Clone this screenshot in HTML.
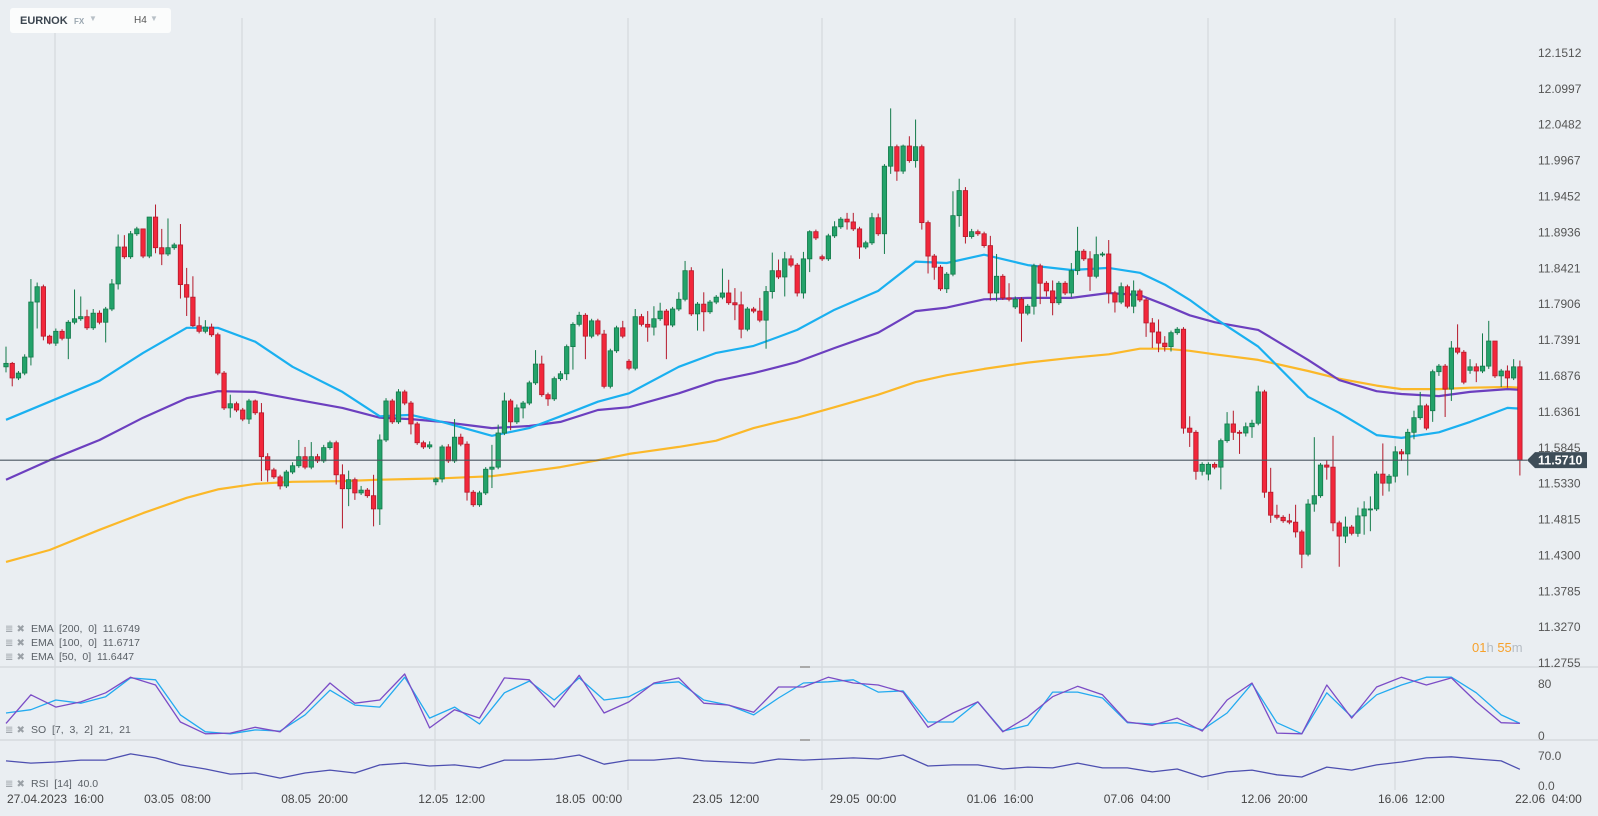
<!DOCTYPE html>
<html><head><meta charset="utf-8"><style>
html,body{margin:0;padding:0;background:#eaeef2;}
body{width:1598px;height:816px;overflow:hidden;position:relative;font-family:"Liberation Sans",sans-serif;}
#chart{position:absolute;left:0;top:0;}
.box{position:absolute;left:10px;top:8px;width:161px;height:25px;background:#fbfcfc;border-radius:3px;}
</style></head><body>
<svg id="chart" width="1598" height="816"></svg>
<div class="box">
<span style="position:absolute;left:10px;top:7px;font-size:11px;font-weight:bold;color:#3c4650">EURNOK</span>
<span style="position:absolute;left:64px;top:9px;font-size:8px;font-weight:bold;color:#9aa6b0">FX</span>
<span style="position:absolute;left:79px;top:6px;font-size:8px;color:#b8c0c7">▼</span>
<span style="position:absolute;left:124px;top:7px;font-size:10px;color:#555">H4</span>
<span style="position:absolute;left:140px;top:6px;font-size:8px;color:#b8c0c7">▼</span>
</div>
<script>
const closes=[11.710,11.689,11.696,11.719,11.798,11.820,11.749,11.739,11.756,11.746,
11.769,11.774,11.777,11.761,11.782,11.769,11.788,11.824,11.877,11.863,
11.896,11.903,11.864,11.920,11.876,11.867,11.876,11.880,11.823,11.805,
11.764,11.756,11.762,11.751,11.696,11.646,11.652,11.643,11.630,11.656,
11.639,11.576,11.557,11.547,11.534,11.554,11.563,11.576,11.561,11.576,
11.570,11.589,11.596,11.550,11.530,11.543,11.524,11.528,11.520,11.501,
11.600,11.656,11.626,11.669,11.653,11.623,11.596,11.590,11.593,11.544,
11.590,11.570,11.604,11.594,11.525,11.507,11.524,11.558,11.561,11.610,
11.656,11.626,11.646,11.653,11.682,11.709,11.665,11.659,11.688,11.695,
11.734,11.766,11.779,11.749,11.771,11.752,11.677,11.728,11.761,11.749,
11.703,11.777,11.766,11.762,11.774,11.785,11.765,11.788,11.802,11.843,
11.781,11.795,11.784,11.798,11.805,11.811,11.797,11.794,11.759,11.788,
11.785,11.772,11.813,11.843,11.834,11.860,11.851,11.811,11.860,11.899,
11.890,11.860,11.893,11.906,11.917,11.913,11.903,11.877,11.883,11.919,
11.896,11.993,12.021,11.986,12.022,12.001,12.021,11.912,11.864,11.848,
11.817,11.838,11.922,11.958,11.892,11.899,11.896,11.879,11.811,11.835,
11.804,11.802,11.802,11.782,11.792,11.850,11.825,11.814,11.797,11.825,
11.811,11.843,11.871,11.860,11.835,11.866,11.867,11.811,11.798,11.820,
11.792,11.814,11.801,11.768,11.755,11.739,11.734,11.754,11.759,11.617,
11.611,11.555,11.565,11.565,11.561,11.599,11.623,11.611,11.610,11.619,
11.624,11.669,11.525,11.492,11.489,11.484,11.482,11.468,11.436,11.508,
11.520,11.564,11.561,11.481,11.462,11.475,11.466,11.491,11.501,11.501,
11.551,11.538,11.548,11.583,11.580,11.611,11.632,11.649,11.617,11.698,
11.706,11.673,11.732,11.726,11.683,11.705,11.699,11.706,11.742,11.692,
11.699,11.689,11.705,11.571];
const firstOpen=11.705;
const gapIdx=[69,100,131,162,193,229,235];
const gapOpen=[11.540,11.713,11.863,11.791,11.551,11.642,11.700];
const wickUp=[24,2,3,4,33,6,3,2,4,3, 3,42,29,10,6,4,3,7,18,17, 4,3,0,0,18,27,42,3,30,24,
30,13,10,5,3,3,13,3,3,3, 2,14,5,3,3,3,5,24,14,21, 4,4,3,3,15,13,3,6,3,30,
8,4,3,4,3,3,3,3,5,2, 3,4,26,5,4,3,3,3,32,12, 12,3,5,3,3,20,12,3,3,4,
3,3,5,3,3,3,6,3,3,10, 3,11,4,19,18,12,3,3,10,14, 5,3,17,3,3,35,19,21,19,3,
3,19,8,26,16,10,5,3,10,2, 3,3,3,8,3,9,13,3,3,7, 6,3,55,3,2,14,39,3,3,3,
3,3,35,17,5,4,3,3,14,32, 3,21,4,3,3,3,3,3,15,3, 3,11,35,3,11,26,3,20,3,6,
3,15,3,3,7,18,10,3,3,3, 17,3,3,3,3,3,17,19,3,6, 5,9,3,35,15,3,10,25,3,7,
84,3,7,45,3,15,3,12,11,18, 4,44,3,8,4,5,10,20,3,3, 3,3,10,34,3,11,5,47,29,0, 3,8,11,9];
const wickDn=[8,12,3,3,12,38,6,2,4,3, 30,3,3,3,3,3,29,3,8,3, 3,3,3,3,8,16,3,3,20,27,
2,3,3,3,3,3,14,3,3,7, 3,35,17,3,5,3,3,3,3,3, 3,3,3,14,57,25,10,3,3,25,
23,3,3,3,3,15,3,3,3,5, 5,3,3,3,12,3,3,3,27,3, 3,12,3,15,3,3,3,10,3,3,
9,33,3,33,3,3,3,3,3,3, 3,3,3,21,12,3,49,3,3,3, 3,24,28,3,3,3,3,22,13,3,
3,3,41,10,3,28,3,5,8,19, 3,3,3,3,3,11,3,17,3,3, 3,29,11,14,4,3,10,10,25,18,
3,6,3,16,10,3,3,3,11,12, 3,3,3,41,3,12,30,8,18,3, 3,6,6,3,21,3,3,15,15,3,
3,10,3,20,23,13,7,7,3,8, 21,12,6,9,3,32,3,11,30,5, 16,3,8,11,3,3,3,8,20,3,
11,3,18,12,44,10,3,5,27,32, 3,18,12,9,10,31,10,3,3,16, 6,40,17,3,3,5,16,3,4,3, 16,14,3,22];
const emaIdx=[1,8,16,23,30,35,41,47,55,61,66,71,79,85,90,96,101,109,115,121,125,128,134,141,147,152,158,165,172,178,183,187,191,195,202,210,215,221,225,231,236,242,244];
const ema50=[11.629,11.655,11.685,11.725,11.761,11.761,11.741,11.705,11.669,11.634,11.636,11.626,11.606,11.617,11.634,11.655,11.667,11.705,11.725,11.735,11.748,11.758,11.787,11.814,11.856,11.854,11.866,11.851,11.844,11.847,11.840,11.823,11.801,11.775,11.734,11.662,11.639,11.607,11.603,11.611,11.626,11.646,11.645];
const ema100=[11.543,11.571,11.600,11.632,11.660,11.670,11.669,11.659,11.646,11.632,11.630,11.626,11.617,11.620,11.626,11.643,11.647,11.667,11.685,11.696,11.705,11.712,11.732,11.754,11.785,11.790,11.802,11.804,11.804,11.811,11.808,11.794,11.779,11.769,11.758,11.715,11.686,11.670,11.666,11.663,11.669,11.673,11.672];
const ema200=[11.425,11.442,11.471,11.495,11.517,11.529,11.537,11.540,11.541,11.543,11.544,11.545,11.548,11.555,11.561,11.571,11.580,11.590,11.599,11.617,11.626,11.632,11.647,11.665,11.683,11.693,11.702,11.711,11.718,11.723,11.731,11.731,11.728,11.723,11.715,11.699,11.688,11.678,11.673,11.673,11.675,11.676,11.675];
const oscIdx=[1,5,9,13,17,21,25,29,33,37,41,45,49,53,57,61,65,69,73,77,81,85,89,93,97,101,105,109,113,117,121,125,129,133,137,141,145,149,153,157,161,165,169,173,177,181,185,189,193,197,201,205,209,213,217,221,225,229,233,237,241,244];
const soK=[21,65,46,54,68,92,80,23,5,6,15,8,42,83,52,57,97,14,42,29,91,88,46,95,37,54,83,91,52,49,38,77,77,92,83,80,69,15,37,54,8,31,62,78,65,23,18,29,9,57,83,6,5,80,29,77,92,80,91,54,22,21];
const soD=[37,42,57,52,62,91,88,34,8,5,11,9,34,72,49,46,92,29,46,20,68,86,57,91,57,62,82,85,57,49,34,60,83,85,88,69,71,23,23,54,9,18,69,69,60,22,20,22,11,37,82,22,5,68,31,65,80,92,92,68,34,21];
const rsi=[63,57,60,65,65,82,71,52,41,27,30,16,30,38,30,52,57,49,52,44,65,65,68,79,54,65,65,71,63,60,57,68,65,68,71,68,79,49,52,52,41,46,44,57,44,44,33,41,19,33,38,25,19,46,38,52,60,71,74,68,63,40];
const priceTicks=["12.1512","12.0997","12.0482","11.9967","11.9452","11.8936","11.8421","11.7906","11.7391","11.6876","11.6361","11.5845","11.5330","11.4815","11.4300","11.3785","11.3270","11.2755"];
const dateLabels=["27.04.2023  16:00","03.05  08:00","08.05  20:00","12.05  12:00","18.05  00:00","23.05  12:00","29.05  00:00","01.06  16:00","07.06  04:00","12.06  20:00","16.06  12:00","22.06  04:00"];
const lastPrice=11.5710;

const NS="http://www.w3.org/2000/svg";
const svg=document.getElementById('chart');
const X=i=>6+i*6.23;            // 0-based candle index
const Y=p=>56+(12.1512-p)*696.6;
const YS=v=>737-v*0.65;
const YR=v=>784-v*0.367;
function mk(tag,attrs,parent){const e=document.createElementNS(NS,tag);for(const k in attrs)e.setAttribute(k,attrs[k]);(parent||svg).appendChild(e);return e;}

// grid
const gridG=mk('g',{});


[55,242,435,628,822,1015,1208,1395].forEach(gx=>{
  const l=mk('line',{x1:gx,x2:gx,y1:18,y2:790,stroke:'#dde1e5','stroke-width':2},gridG);
  
  
});
[667,740].forEach(sy=>{
  const l=mk('line',{x1:0,x2:1598,y1:sy,y2:sy,stroke:'#d6dade','stroke-width':1.5},gridG);
  
  
  const h=mk('rect',{x:800,y:sy-1,width:10,height:2,fill:'#aaa'},gridG);
  
  
});

// price axis
priceTicks.forEach(t=>{
  const tx=mk('text',{x:1538,y:Y(+t)+1,'font-size':12,fill:'#555','font-family':'Liberation Sans, sans-serif'});
  tx.textContent=t;
  
  
});
[["80",688],["0",740],["70.0",760],["0.0",790]].forEach(a=>{
  const tx=mk('text',{x:1538,y:a[1],'font-size':12,fill:'#555','font-family':'Liberation Sans, sans-serif'});
  tx.textContent=a[0];
  
  
});
dateLabels.forEach((d,k)=>{
  const tx=mk('text',{x:7+k*137.1,y:803,'font-size':12,fill:'#444','font-family':'Liberation Sans, sans-serif','xml:space':'preserve'});
  tx.style.whiteSpace='pre';
  tx.textContent=d;
  
  
});

// EMAs
function emaPath(vals,color,name){
  const d=vals.map((v,k)=>(k?'L':'M')+X(emaIdx[k]-1).toFixed(1)+' '+Y(v).toFixed(1)).join(' ');
  const p=mk('path',{d:d,fill:'none',stroke:color,'stroke-width':2.2,'stroke-linejoin':'round'});
  
  
}
emaPath(ema200,'#fbb829','ema-200-line');
emaPath(ema100,'#6c3fbf','ema-100-line');
emaPath(ema50,'#1ab0f0','ema-50-line');

// candles
const cg=mk('g',{});


closes.forEach((c,i)=>{
  let o=i===0?firstOpen:closes[i-1];
  const gi=gapIdx.indexOf(i); if(gi>=0)o=gapOpen[gi];
  const up=c>=o;
  const top=Math.max(o,c),bot=Math.min(o,c);
  const hi=top+wickUp[i]/1000, lo=bot-wickDn[i]/1000;
  const x=X(i);
  const stroke=up?'#137a4a':'#b5192b', fill=up?'#23a26a':'#f2273b';
  const w=mk('line',{x1:x,x2:x,y1:Y(hi),y2:Y(lo),stroke:stroke,'stroke-width':1},cg);
  
  
  const h=Math.max(1,Y(bot)-Y(top));
  const b=mk('rect',{x:x-2.2,y:Y(top),width:4.4,height:h,fill:fill,stroke:stroke,'stroke-width':0.8},cg);
  
  
});

// last price line + tag
const lp=mk('line',{x1:0,x2:1527,y1:Y(lastPrice),y2:Y(lastPrice),stroke:'#4a5661','stroke-width':1.2});


const ly=Y(lastPrice);
const tag=mk('path',{d:`M1527 ${ly} L1535 ${ly-8} L1587 ${ly-8} L1587 ${ly+8} L1535 ${ly+8} Z`,fill:'#3e4d58'});


const tt=mk('text',{x:1538,y:ly+4.5,'font-size':12.5,'font-weight':'bold',fill:'#fff','font-family':'Liberation Sans, sans-serif'});
tt.textContent=lastPrice.toFixed(4);



// countdown
const cd=mk('text',{x:1472,y:652,'font-size':13,'font-family':'Liberation Sans, sans-serif'});


[['01','#f7a12b'],['h ','#b5bcc3'],['55','#f7a12b'],['m','#b5bcc3']].forEach(s=>{const t=mk('tspan',{fill:s[1]},cd);t.textContent=s[0];});

// oscillators
function oscLine(vals,fn,color,name){
  const d=vals.map((v,k)=>(k?'L':'M')+X(oscIdx[k]-1).toFixed(1)+' '+fn(v).toFixed(1)).join(' ');
  const p=mk('path',{d:d,fill:'none',stroke:color,'stroke-width':1.3,'stroke-linejoin':'round'});
  
  
}
oscLine(soD,YS,'#22aaf0','stochastic-d-line');
oscLine(soK,YS,'#7b4cc6','stochastic-k-line');
oscLine(rsi,YR,'#4d4fb0','rsi-line');

// legends
function legend(txt,y,name){
  const g=mk('g',{});
  
  
  const ic=mk('text',{x:5,y:y,'font-size':10,fill:'#9aa0a6','font-family':'DejaVu Sans, sans-serif'},g);
  ic.textContent='≣ ✖';
  const t=mk('text',{x:31,y:y,'font-size':10.5,fill:'#5a6066','font-family':'Liberation Sans, sans-serif'},g);
  t.style.whiteSpace='pre';
  t.textContent=txt;
}
legend('EMA  [200,  0]  11.6749',632,'legend-ema-200');
legend('EMA  [100,  0]  11.6717',646,'legend-ema-100');
legend('EMA  [50,  0]  11.6447',660,'legend-ema-50');
legend('SO  [7,  3,  2]  21,  21',733,'legend-stochastic');
legend('RSI  [14]  40.0',787,'legend-rsi');
</script>
</body></html>
